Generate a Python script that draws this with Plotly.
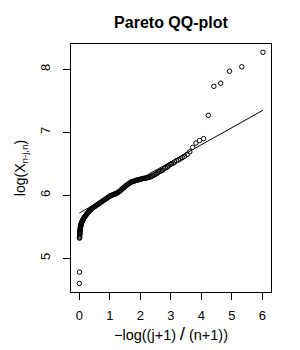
import plotly.graph_objects as go

# Theoretical Pareto quantiles (x) and log order statistics (y)
qx = [0.0024, 0.0049, 0.0073, 0.0097, 0.012, 0.015, 0.017, 0.019, 0.022, 0.024,
      0.027, 0.029, 0.032, 0.035, 0.037, 0.040, 0.045, 0.050, 0.055, 0.060,
      0.065, 0.070, 0.080, 0.090, 0.10, 0.11, 0.12, 0.13, 0.14, 0.15,
      0.165, 0.18, 0.195, 0.21, 0.23, 0.25, 0.27, 0.29, 0.31, 0.33,
      0.35, 0.38, 0.41, 0.44, 0.47, 0.50, 0.53, 0.56, 0.59, 0.62,
      0.65, 0.68, 0.71, 0.74, 0.77, 0.80, 0.83, 0.86, 0.89, 0.92,
      0.95, 0.98, 1.01, 1.04, 1.07, 1.10, 1.13, 1.16, 1.19, 1.22,
      1.25, 1.28, 1.31, 1.34, 1.37, 1.40, 1.43, 1.46, 1.49, 1.52,
      1.55, 1.58, 1.61, 1.64, 1.67, 1.70, 1.73, 1.76, 1.79, 1.82,
      1.85, 1.88, 1.92, 1.96, 2.00, 2.04, 2.08, 2.12, 2.16, 2.20,
      2.24, 2.28, 2.32, 2.36, 2.40, 2.44, 2.48, 2.52, 2.56, 2.60,
      2.64, 2.69, 2.73, 2.78, 2.84, 2.89, 2.93, 2.98,
      3.025, 3.077, 3.131, 3.188, 3.248, 3.313, 3.382, 3.456, 3.536, 3.623,
      3.718, 3.824, 3.942, 4.075, 4.229, 4.412, 4.635, 4.922, 5.328, 6.021]
logx = [4.60, 4.78, 5.32, 5.33, 5.35, 5.37, 5.39, 5.40, 5.42, 5.43,
        5.45, 5.46, 5.47, 5.48, 5.49, 5.50, 5.51, 5.52, 5.53, 5.54,
        5.55, 5.56, 5.57, 5.58, 5.59, 5.60, 5.61, 5.62, 5.63, 5.64,
        5.65, 5.66, 5.67, 5.68, 5.69, 5.71, 5.72, 5.73, 5.74, 5.75,
        5.76, 5.77, 5.79, 5.80, 5.81, 5.82, 5.83, 5.84, 5.85, 5.86,
        5.87, 5.88, 5.89, 5.90, 5.91, 5.92, 5.93, 5.94, 5.95, 5.96,
        5.97, 5.98, 5.99, 5.995, 6.00, 6.01, 6.015, 6.02, 6.025, 6.03,
        6.04, 6.05, 6.06, 6.07, 6.085, 6.10, 6.11, 6.12, 6.135, 6.15,
        6.16, 6.17, 6.18, 6.19, 6.20, 6.21, 6.215, 6.22, 6.225, 6.23,
        6.235, 6.24, 6.245, 6.25, 6.255, 6.26, 6.265, 6.27, 6.272, 6.275,
        6.28, 6.285, 6.29, 6.30, 6.31, 6.32, 6.33, 6.34, 6.355, 6.37,
        6.38, 6.39, 6.40, 6.42, 6.44, 6.45, 6.47, 6.49,
        6.50, 6.51, 6.53, 6.55, 6.56, 6.58, 6.60, 6.62, 6.65, 6.69,
        6.76, 6.83, 6.87, 6.90, 7.27, 7.73, 7.78, 7.97, 8.04, 8.27]

# Fitted line end points
line_x = [0.0024, 6.021]
line_y = [5.72, 7.35]

x_ticks = [0, 1, 2, 3, 4, 5, 6]
y_ticks = [5, 6, 7, 8]

fig = go.Figure()
fig.add_trace(go.Scatter(
    x=qx, y=logx, mode="markers",
    marker=dict(symbol="circle-open", size=4.5, color="black", line=dict(width=1, color="black")),
    showlegend=False, hoverinfo="skip"))
fig.add_trace(go.Scatter(
    x=line_x, y=line_y, mode="lines",
    line=dict(color="black", width=1), showlegend=False, hoverinfo="skip"))

font = "Liberation Sans, Arial, sans-serif"
fig.update_layout(
    width=292, height=342,
    margin=dict(l=63, r=29, t=36, b=58, pad=0),
    paper_bgcolor="white", plot_bgcolor="white",
    font=dict(family=font, size=13, color="black"),
    title=dict(text="<b>Pareto QQ-plot</b>", x=163 / 292, xanchor="center",
               y=1 - 14 / 342, yanchor="middle", font=dict(size=16, family=font)),
    xaxis=dict(range=[-0.272, 6.285], tickvals=x_ticks, ticks="outside", ticklen=7,
               tickcolor="black", showgrid=False, zeroline=False, showline=True,
               linecolor="black", linewidth=1, mirror=True,
               tickfont=dict(size=13), ticklabelstandoff=4,
               title=dict(text="\u2212log((j+1)<span style=\"font-size:19px\">\u2009/\u2009</span>(n+1))",
                          standoff=6, font=dict(size=14.5))),
    yaxis=dict(range=[4.465, 8.402], tickvals=y_ticks, ticks="outside", ticklen=7,
               tickcolor="black", showgrid=False, zeroline=False, showline=True,
               linecolor="black", linewidth=1, mirror=True, tickangle=-90,
               tickfont=dict(size=13), ticklabelstandoff=8,
               title=dict(text="log(X<sub>n-j,n</sub>)", standoff=8, font=dict(size=14))),
)

fig.write_html("out.html")
